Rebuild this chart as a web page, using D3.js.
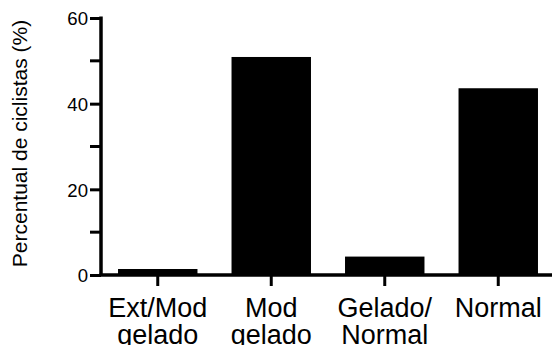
<!DOCTYPE html>
<html>
<head>
<meta charset="utf-8">
<script src="https://cdn.jsdelivr.net/npm/d3@7"></script>
<style>
  body { margin: 0; background: #fff; }
  text { font-family: "Liberation Sans", Arial, sans-serif; fill: #000; }
</style>
</head>
<body>
<div id="canvas"></div>
<script>
// data
const categories = ["Ext/Mod|gelado", "Mod|gelado", "Gelado/|Normal", "Normal"];
const values = [1.4, 50.9, 4.3, 43.6];
const yTicks = [0, 20, 40, 60];
const yMinorTicks = [10, 30, 50];

// constants
const width = 552;
const height = 345;
const axisX = 101;
const baseY = 275;
const topY = 18;

const svg = d3.select('#canvas')
    .append('svg').attr('width', width).attr('height', height);

// scales
const x = d3.scaleBand()
    .domain(categories)
    .range([axisX, 555])
    .paddingInner(0.3)
    .paddingOuter(0.15);
const y = d3.scaleLinear()
    .domain([0, 60])
    .range([baseY, topY]);

// bars
svg.append('g')
    .selectAll('rect')
    .data(values)
    .join('rect')
    .attr('x', (d, i) => x(categories[i]))
    .attr('y', d => y(d))
    .attr('width', x.bandwidth())
    .attr('height', d => y(0) - y(d))
    .attr('fill', '#000');

// y axis
const yAxis = d3.axisLeft(y)
    .tickValues(yTicks)
    .tickSize(11)
    .tickPadding(2)
    .tickSizeOuter(0);
const gy = svg.append('g')
    .attr('transform', `translate(${axisX},0)`)
    .call(yAxis);
gy.selectAll('.tick line').attr('stroke-width', 3);
gy.select('.domain').attr('stroke-width', 3.5)
    .attr('d', `M0,${topY - 1.5}V${baseY}`);
gy.selectAll('.tick text')
    .style('font-size', '18.6px')
    .attr('dy', '0.36em');
// minor ticks
gy.selectAll('.minor')
    .data(yMinorTicks)
    .join('line')
    .attr('class', 'minor')
    .attr('x1', -11).attr('x2', 0)
    .attr('y1', d => y(d)).attr('y2', d => y(d))
    .attr('stroke', '#000').attr('stroke-width', 3);

// x axis
const xAxis = d3.axisBottom(x)
    .tickSize(11)
    .tickSizeOuter(0)
    .tickFormat('');
const gx = svg.append('g')
    .attr('transform', `translate(0,${baseY})`)
    .call(xAxis);
gx.selectAll('.tick line').attr('stroke-width', 3);
gx.select('.domain').attr('stroke-width', 3.5)
    .attr('d', `M${axisX - 1.5},0H${width}`);
gx.selectAll('.tick').each(function(d) {
    const lines = d.split('|');
    const t = d3.select(this).append('text')
        .attr('text-anchor', 'middle')
        .style('font-size', '27px');
    lines.forEach((s, i) => {
        t.append('tspan')
            .attr('x', 0)
            .attr('y', 42 + i * 27)
            .text(s);
    });
});

// y axis title
svg.append('text')
    .attr('transform', `translate(27,143.5) rotate(-90)`)
    .attr('text-anchor', 'middle')
    .style('font-size', '21px')
    .text('Percentual de ciclistas (%)');
</script>
</body>
</html>
